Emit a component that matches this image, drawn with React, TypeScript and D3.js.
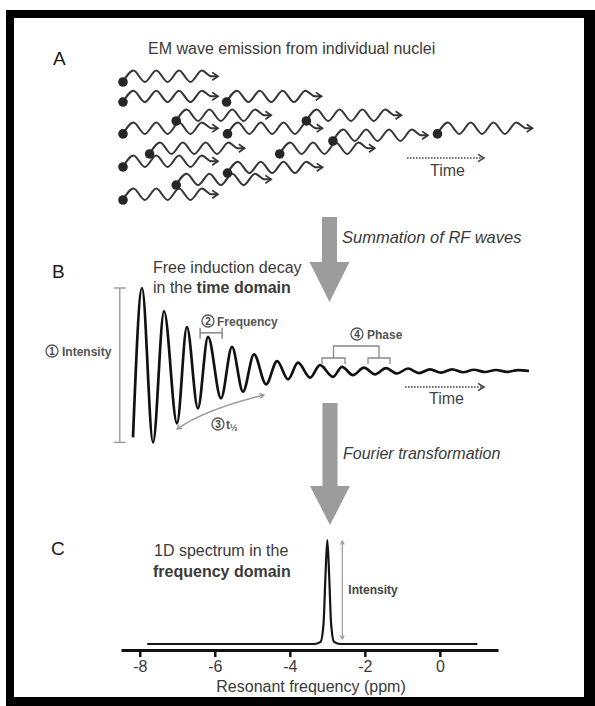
import React, { useRef, useEffect } from 'react';
import * as d3 from 'd3';

// Panel A: one entry per emitted wave (start time in wave-lengths, vertical lane)
const emitTimes = [0, 0, 1.09, 0.56, 1.93, 0, 1.1, 2.21, 3.31, 0.28, 1.65, 0, 1.1, 0.56, 0];
const emitLanes = [0, 1.02, 1.02, 1.98, 1.98, 2.64, 2.64, 3.0, 2.64, 3.66, 3.66, 4.32, 4.63, 5.24, 6];

// shape of one emitted wave packet (fraction of its length, level -1 trough .. 1 crest)
const waveFrac = [0, 0.11, 0.23, 0.35, 0.47, 0.59, 0.71, 0.83, 0.93, 1];
const waveLevel = [-1, 1, -1, 1, -1, 1, -1, 1, 0, 0];

// Panel B: free induction decay, extrema
const fidTime = [0, 0.41, 0.91, 1.41, 2.0, 2.45, 2.95, 3.41, 4.0, 4.5, 5.0, 5.5, 6.05, 6.55, 7.05, 7.5, 8.05, 8.5, 9.09, 9.5, 10.0, 10.5, 11.0, 11.5, 12.0, 12.5, 13.0, 13.5, 14.0, 14.5, 15.0, 15.5, 16.0, 16.5, 17.0, 17.5, 18.0];
const fidSignal = [-0.8, 1.0, -0.86, 0.72, -0.63, 0.53, -0.45, 0.41, -0.33, 0.29, -0.25, 0.2, -0.16, 0.12, -0.1, 0.1, -0.08, 0.07, -0.07, 0.05, -0.05, 0.04, -0.04, 0.035, -0.03, 0.03, -0.025, 0.02, -0.02, 0.02, -0.015, 0.015, -0.012, 0.012, -0.01, 0.01, 0];

// Panel C: 1D spectrum
const specPpm = [-7.8, -3.35, -3.18, -3.1, -3.05, -3.0, -2.95, -2.9, -2.82, -2.65, 1.0];
const specIntensity = [0, 0, 0.02, 0.2, 0.65, 1.0, 0.65, 0.2, 0.02, 0, 0];
const ppmTicks = [-8, -6, -4, -2, 0];

const FONT = '"Liberation Sans", Arial, Helvetica, sans-serif';

const App = () => {
  const svgReference = useRef<SVGSVGElement>(null);

  useEffect(() => {
    const svg = d3.select(svgReference.current);
    svg.selectAll('*').remove();
    svg.attr('font-family', FONT);

    // --- frame ---
    svg.append('rect').attr('x', 6).attr('y', 10).attr('width', 589).attr('height', 696).attr('fill', '#000');
    svg.append('rect').attr('x', 14).attr('y', 18).attr('width', 570).attr('height', 679).attr('fill', '#fff');

    const label = (x: number, y: number, t: string, size = 19) =>
      svg.append('text').attr('x', x).attr('y', y).attr('font-size', size).attr('fill', '#1a1a1a').text(t);

    // small open chevron arrowhead pointing along angle (radians)
    const chevron = (g: any, x: number, y: number, ang: number, len = 6, spread = 0.6, color = '#333', w = 1.6) => {
      const a1 = ang + Math.PI - spread, a2 = ang + Math.PI + spread;
      g.append('path')
        .attr('d', `M${x + len * Math.cos(a1)},${y + len * Math.sin(a1)}L${x},${y}L${x + len * Math.cos(a2)},${y + len * Math.sin(a2)}`)
        .attr('fill', 'none').attr('stroke', color).attr('stroke-width', w)
        .attr('stroke-linejoin', 'miter');
    };

    // dotted "Time" arrow
    const timeArrow = (x0: number, x1: number, y: number, ty: number) => {
      svg.append('line').attr('x1', x0).attr('x2', x1 - 2).attr('y1', y).attr('y2', y)
        .attr('stroke', '#444').attr('stroke-width', 1.6).attr('stroke-dasharray', '1.6,1.4');
      chevron(svg, x1, y, 0, 7, 0.55, '#444', 1.6);
      svg.append('text').attr('x', (x0 + x1) / 2 + 2).attr('y', ty).attr('text-anchor', 'middle')
        .attr('font-size', 16).attr('fill', '#444').text('Time');
    };

    // big grey block arrow
    const blockArrow = (cx: number, yTop: number, yHead: number, yTip: number, shaftW: number, headW: number) => {
      svg.append('path')
        .attr('d', `M${cx - shaftW / 2},${yTop}H${cx + shaftW / 2}V${yHead}H${cx + headW / 2}L${cx},${yTip}L${cx - headW / 2},${yHead}H${cx - shaftW / 2}Z`)
        .attr('fill', '#9c9c9c');
    };

    const circledNumber = (x: number, y: number, n: string) => {
      svg.append('circle').attr('cx', x).attr('cy', y).attr('r', 6)
        .attr('fill', '#fff').attr('stroke', '#555').attr('stroke-width', 1.3);
      svg.append('text').attr('x', x).attr('y', y + 3.5).attr('text-anchor', 'middle')
        .attr('font-size', 10).attr('font-weight', 'bold').attr('fill', '#444').text(n);
    };

    // ================= Panel A =================
    label(53, 65, 'A');
    svg.append('text').attr('x', 148).attr('y', 54).attr('font-size', 16).attr('fill', '#3a3a3a')
      .text('EM wave emission from individual nuclei');

    const xA = d3.scaleLinear().domain([0, 1]).range([123, 218]);
    const yA = d3.scaleLinear().domain([0, 6]).range([82, 200]);
    const waveAmp = 0.29; // in lanes

    const waveLine = d3.line<number>()
      .x(d => d[0])
      .y(d => d[1])
      .curve(d3.curveMonotoneX);

    const gA = svg.append('g');
    emitTimes.forEach((t, i) => {
      const lane = emitLanes[i];
      const pts = waveFrac.map((f, k) => [xA(t + f), yA(lane - waveAmp * (waveLevel[k] + 1))]);
      gA.append('path').attr('d', waveLine(pts as any)).attr('fill', 'none')
        .attr('stroke', '#353535').attr('stroke-width', 2);
      const end = pts[pts.length - 1];
      chevron(gA, end[0], end[1], 0, 7, 0.6, '#353535', 1.7);
    });
    gA.selectAll('.dot')
      .data(emitTimes)
      .enter().append('circle')
      .attr('class', 'dot')
      .attr('cx', d => xA(d))
      .attr('cy', (d, i) => yA(emitLanes[i]))
      .attr('r', 4.8)
      .attr('fill', '#262626');

    timeArrow(407, 484, 158, 176);

    // arrow A -> B
    blockArrow(329.5, 217, 262, 302, 15, 40);
    svg.append('text').attr('x', 342).attr('y', 243).attr('font-size', 16.5).attr('font-style', 'italic')
      .attr('fill', '#3a3a3a').text('Summation of RF waves');

    // ================= Panel B =================
    label(52, 278, 'B');
    svg.append('text').attr('x', 153).attr('y', 273).attr('font-size', 16).attr('fill', '#3a3a3a')
      .text('Free induction decay');
    const t2 = svg.append('text').attr('x', 153).attr('y', 293).attr('font-size', 16).attr('fill', '#3a3a3a');
    t2.append('tspan').text('in the ');
    t2.append('tspan').attr('font-weight', 'bold').text('time domain');

    const xB = d3.scaleLinear().domain([0, 18]).range([133, 529]);
    const yB = d3.scaleLinear().domain([-1, 1]).range([454, 288]);
    const fidPoints = fidTime.map((t, i) => [xB(t), yB(fidSignal[i])]);

    // (1) intensity bracket
    const fMax = d3.max(fidSignal) as number;
    const fMin = d3.min(fidSignal) as number;
    const gB = svg.append('g').attr('stroke', '#9a9a9a').attr('stroke-width', 1.4).attr('fill', 'none');
    gB.append('line').attr('x1', xB(-0.6)).attr('x2', xB(-0.6)).attr('y1', yB(fMax)).attr('y2', yB(fMin));
    gB.append('line').attr('x1', xB(-0.6) - 6).attr('x2', xB(-0.6) + 6).attr('y1', yB(fMax)).attr('y2', yB(fMax));
    gB.append('line').attr('x1', xB(-0.6) - 6).attr('x2', xB(-0.6) + 6).attr('y1', yB(fMin)).attr('y2', yB(fMin));
    circledNumber(52, 351, '1');
    svg.append('text').attr('x', 62).attr('y', 355.5).attr('font-size', 12).attr('font-weight', 'bold')
      .attr('fill', '#555').text('Intensity');

    // FID trace
    svg.append('path').attr('d', waveLine(fidPoints as any)).attr('fill', 'none')
      .attr('stroke', '#111').attr('stroke-width', 2.7).attr('stroke-linejoin', 'round');

    // (2) frequency bracket: one period
    const fy = yB(0.46);
    const gF = svg.append('g').attr('stroke', '#777').attr('stroke-width', 1.3);
    gF.append('line').attr('x1', xB(3.05)).attr('x2', xB(4.05)).attr('y1', fy).attr('y2', fy);
    gF.append('line').attr('x1', xB(3.05)).attr('x2', xB(3.05)).attr('y1', fy - 5).attr('y2', fy + 6);
    gF.append('line').attr('x1', xB(4.05)).attr('x2', xB(4.05)).attr('y1', fy - 5).attr('y2', fy + 6);
    circledNumber(208, 321, '2');
    svg.append('text').attr('x', 217).attr('y', 325.5).attr('font-size', 12).attr('font-weight', 'bold')
      .attr('fill', '#555').text('Frequency');

    // (3) t1/2 curved arrow
    const p0 = [177, 429], pc = [206, 409], p1 = [264, 395];
    svg.append('path').attr('d', `M${p0[0]},${p0[1]}Q${pc[0]},${pc[1]} ${p1[0]},${p1[1]}`)
      .attr('fill', 'none').attr('stroke', '#999').attr('stroke-width', 1.3);
    chevron(svg, p1[0], p1[1], Math.atan2(p1[1] - pc[1], p1[0] - pc[0]), 5, 0.5, '#999', 1.3);
    chevron(svg, p0[0], p0[1], Math.atan2(p0[1] - pc[1], p0[0] - pc[0]), 5, 0.5, '#999', 1.3);
    circledNumber(218, 424, '3');
    const th = svg.append('text').attr('x', 226).attr('y', 428.5).attr('font-size', 12).attr('font-weight', 'bold')
      .attr('fill', '#555');
    th.append('tspan').text('t');
    th.append('tspan').attr('font-size', 9).attr('dy', 2).text('½');

    // (4) phase brackets
    const gP = svg.append('g').attr('stroke', '#888').attr('stroke-width', 1.3).attr('fill', 'none');
    gP.append('path').attr('d', 'M322,364V358H345V364');
    gP.append('path').attr('d', 'M368,364V358H390V364');
    gP.append('path').attr('d', 'M333.5,358V346H379V358');
    circledNumber(357, 334, '4');
    svg.append('text').attr('x', 367).attr('y', 338.5).attr('font-size', 12).attr('font-weight', 'bold')
      .attr('fill', '#555').text('Phase');

    timeArrow(405, 484, 387, 404);

    // arrow B -> C
    blockArrow(330, 403, 486, 525, 15, 40);
    svg.append('text').attr('x', 343).attr('y', 459).attr('font-size', 16).attr('font-style', 'italic')
      .attr('fill', '#3a3a3a').text('Fourier transformation');

    // ================= Panel C =================
    label(51, 555, 'C');
    svg.append('text').attr('x', 154).attr('y', 556).attr('font-size', 16).attr('fill', '#3a3a3a')
      .text('1D spectrum in the');
    svg.append('text').attr('x', 153).attr('y', 577).attr('font-size', 16).attr('font-weight', 'bold')
      .attr('fill', '#3a3a3a').text('frequency domain');

    const xC = d3.scaleLinear().domain([-8.5, 1.55]).range([121, 498]);
    const yC = d3.scaleLinear().domain([0, 1]).range([644, 540]);

    const specLine = d3.line<number>()
      .x((d, i) => xC(specPpm[i]))
      .y(d => yC(d))
      .curve(d3.curveMonotoneX);
    svg.append('path').attr('d', specLine(specIntensity)).attr('fill', 'none')
      .attr('stroke', '#151515').attr('stroke-width', 2.2);

    // intensity double arrow
    const ix = xC(-2.6);
    svg.append('line').attr('x1', ix).attr('x2', ix).attr('y1', yC(1) + 1).attr('y2', yC(0) - 5)
      .attr('stroke', '#999').attr('stroke-width', 1.2);
    chevron(svg, ix, yC(1) + 1, -Math.PI / 2, 4, 0.5, '#999', 1.2);
    chevron(svg, ix, yC(0) - 5, Math.PI / 2, 4, 0.5, '#999', 1.2);
    svg.append('text').attr('x', ix + 6).attr('y', 594).attr('font-size', 12).attr('font-weight', 'bold')
      .attr('fill', '#444').text('Intensity');

    // x axis
    const axis = svg.append('g')
      .attr('transform', 'translate(0,650)')
      .call(d3.axisBottom(xC).tickValues(ppmTicks).tickSizeInner(7).tickSizeOuter(0)
        .tickPadding(4).tickFormat(d => String(d)));
    axis.select('.domain').attr('stroke', '#111').attr('stroke-width', 3);
    axis.selectAll('.tick line').attr('stroke', '#111').attr('stroke-width', 2.5);
    axis.selectAll('.tick text').attr('font-size', 16).attr('fill', '#3a3a3a').attr('font-family', FONT);

    svg.append('text').attr('x', 311).attr('y', 692).attr('text-anchor', 'middle')
      .attr('font-size', 16).attr('fill', '#3a3a3a').text('Resonant frequency (ppm)');
  }, []);

  return (
    <svg
      ref={svgReference}
      width={595}
      height={706}
      style={{ position: 'absolute', left: 0, top: 0, display: 'block', background: '#fff' }}
    />
  );
};

export default App;
